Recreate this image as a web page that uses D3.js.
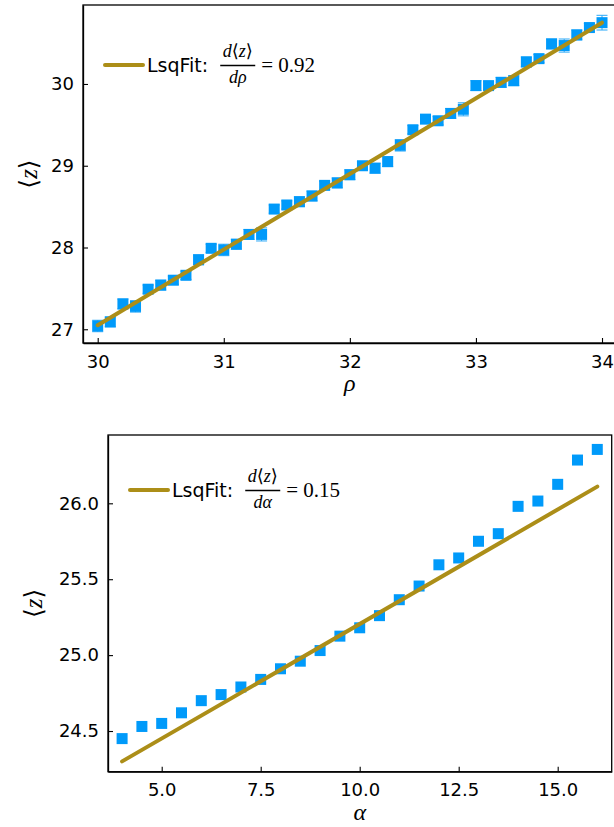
<!DOCTYPE html>
<html>
<head>
<meta charset="utf-8">
<script src="https://cdn.jsdelivr.net/npm/d3@7"></script>
<style>
  html, body { margin: 0; padding: 0; background: #fff; }
  svg { display: block; }
</style>
</head>
<body>
<svg id="chart" width="614" height="827"></svg>
<script>
// ---------- Data: top panel (rho) ----------
const rhoValues = [30.0,30.1,30.2,30.3,30.4,30.5,30.6,30.7,30.8,30.9,
                   31.0,31.1,31.2,31.3,31.4,31.5,31.6,31.7,31.8,31.9,
                   32.0,32.1,32.2,32.3,32.4,32.5,32.6,32.7,32.8,32.9,
                   33.0,33.1,33.2,33.3,33.4,33.5,33.6,33.7,33.8,33.9,34.0];
const zRho = [27.04,27.09,27.31,27.28,27.49,27.54,27.60,27.66,27.85,27.99,
              27.97,28.04,28.16,28.16,28.47,28.52,28.56,28.63,28.76,28.79,
              28.89,29.00,28.97,29.05,29.25,29.44,29.57,29.55,29.64,29.69,
              29.98,29.98,30.02,30.04,30.27,30.31,30.49,30.47,30.60,30.69,30.75];
const errRho = [0.07,0.06,0.06,0.07,0.05,0.06,0.05,0.05,0.06,0.05,
                0.07,0.06,0.06,0.08,0.05,0.05,0.06,0.06,0.05,0.06,
                0.06,0.05,0.06,0.06,0.07,0.05,0.05,0.05,0.06,0.08,
                0.06,0.05,0.06,0.06,0.06,0.05,0.06,0.08,0.06,0.05,0.09];
const fitRhoX = [30.0, 34.0];
const fitRhoY = [27.05, 30.75];
const rhoTicksX = [30, 31, 32, 33, 34];
const rhoTicksY = [27, 28, 29, 30];

// ---------- Data: bottom panel (alpha) ----------
const alphaValues = [4.0,4.5,5.0,5.5,6.0,6.5,7.0,7.5,8.0,8.5,9.0,9.5,10.0,
                     10.5,11.0,11.5,12.0,12.5,13.0,13.5,14.0,14.5,15.0,15.5,16.0];
const zAlpha = [24.45,24.53,24.55,24.62,24.70,24.74,24.79,24.84,24.91,24.96,25.03,25.125,25.18,
                25.26,25.365,25.455,25.595,25.64,25.75,25.80,25.98,26.015,26.125,26.285,26.355];
const fitAlphaX = [4.0, 16.0];
const fitAlphaY = [24.30, 26.11];
const alphaTicksX = [5.0, 7.5, 10.0, 12.5, 15.0];
const alphaTicksY = [24.5, 25.0, 25.5, 26.0];

const BLUE = "#009AFA";
const GOLD = "#AC8E18";
const SANS = "'DejaVu Sans', sans-serif";
const SERIF = "'Liberation Serif', 'DejaVu Serif', serif";

const svg = d3.select("#chart");

function drawPanel(cfg) {
  const g = svg.append("g");
  const x = d3.scaleLinear().domain(cfg.xDomain).range([cfg.left, cfg.right]);
  const y = d3.scaleLinear().domain(cfg.yDomain).range([cfg.bottom, cfg.top]);

  // frame
  g.append("rect")
    .attr("x", cfg.left).attr("y", cfg.top)
    .attr("width", cfg.right - cfg.left).attr("height", cfg.bottom - cfg.top)
    .attr("fill", "none").attr("stroke", "#000").attr("stroke-width", 1.3);

  // axes (ticks inward)
  const xAxis = d3.axisBottom(x).tickValues(cfg.xTicks).tickFormat(cfg.xFmt)
    .tickSizeInner(-5).tickSizeOuter(0).tickPadding(12);
  const gx = g.append("g").attr("transform", `translate(0,${cfg.bottom})`).call(xAxis);
  gx.select(".domain").attr("stroke-width", 1.3);
  gx.selectAll(".tick line").attr("stroke-width", 1.1);
  gx.selectAll(".tick text").attr("font-family", SANS).attr("font-size", 18).attr("fill", "#000");

  const yAxis = d3.axisLeft(y).tickValues(cfg.yTicks).tickFormat(cfg.yFmt)
    .tickSizeInner(-5).tickSizeOuter(0).tickPadding(9);
  const gy = g.append("g").attr("transform", `translate(${cfg.left},0)`).call(yAxis);
  gy.select(".domain").attr("stroke-width", 1.3);
  gy.selectAll(".tick line").attr("stroke-width", 1.1);
  gy.selectAll(".tick text").attr("font-family", SANS).attr("font-size", 18).attr("fill", "#000");

  const clip = "clip" + cfg.id;
  svg.append("clipPath").attr("id", clip).append("rect")
    .attr("x", cfg.left).attr("y", cfg.top)
    .attr("width", cfg.right - cfg.left).attr("height", cfg.bottom - cfg.top);
  const plot = g.append("g").attr("clip-path", `url(#${clip})`);

  const pts = cfg.xs.map((v, i) => ({ x: v, y: cfg.ys[i], e: cfg.errs ? cfg.errs[i] : 0 }));
  const ms = 11;

  // error bars
  if (cfg.errs) {
    const eb = plot.append("g").attr("stroke", "#2aa8f7").attr("stroke-width", 1);
    eb.selectAll("line.v").data(pts).join("line").attr("class", "v")
      .attr("x1", d => x(d.x)).attr("x2", d => x(d.x))
      .attr("y1", d => y(d.y - d.e)).attr("y2", d => y(d.y + d.e));
    eb.selectAll("line.ct").data(pts).join("line").attr("class", "ct")
      .attr("x1", d => x(d.x) - ms / 2).attr("x2", d => x(d.x) + ms / 2)
      .attr("y1", d => y(d.y + d.e)).attr("y2", d => y(d.y + d.e));
    eb.selectAll("line.cb").data(pts).join("line").attr("class", "cb")
      .attr("x1", d => x(d.x) - ms / 2).attr("x2", d => x(d.x) + ms / 2)
      .attr("y1", d => y(d.y - d.e)).attr("y2", d => y(d.y - d.e));
  }

  // markers
  plot.append("g").selectAll("rect").data(pts).join("rect")
    .attr("x", d => x(d.x) - ms / 2).attr("y", d => y(d.y) - ms / 2)
    .attr("width", ms).attr("height", ms).attr("fill", BLUE);

  // fit line
  const fitPts = cfg.fitX.map((v, i) => [v, cfg.fitY[i]]);
  plot.append("path").datum(fitPts)
    .attr("d", d3.line().x(d => x(d[0])).y(d => y(d[1])))
    .attr("fill", "none").attr("stroke", GOLD).attr("stroke-width", 4)
    .attr("stroke-linecap", "round");

  // axis labels
  g.append("text").attr("x", (x(cfg.xTicks[0]) + x(cfg.xTicks[cfg.xTicks.length - 1])) / 2)
    .attr("y", cfg.xLabelY).attr("text-anchor", "middle")
    .attr("font-family", SERIF).attr("font-style", "italic").attr("font-size", 24)
    .text(cfg.xLabel);
  g.append("text")
    .attr("transform", `translate(${cfg.yLabelX},${(cfg.top + cfg.bottom) / 2}) rotate(-90)`)
    .attr("text-anchor", "middle").attr("font-family", SERIF).attr("font-size", 25)
    .html("\u27E8<tspan font-style='italic'>z</tspan>\u27E9");

  // legend
  const L = cfg.legend;
  g.append("line").attr("x1", L.x).attr("x2", L.x + 38).attr("y1", L.y).attr("y2", L.y)
    .attr("stroke", GOLD).attr("stroke-width", 4).attr("stroke-linecap", "round");
  const lt = g.append("text").attr("x", L.x + 42).attr("y", L.y + 7)
    .attr("font-family", SANS).attr("font-size", 19).text("LsqFit:");
  const tw = lt.node().getComputedTextLength();
  const fx = L.x + 42 + tw + 12;
  const fw = 35;
  const fc = fx + fw / 2;
  g.append("text").attr("x", fc).attr("y", L.y - 8).attr("text-anchor", "middle")
    .attr("font-family", SERIF).attr("font-size", 18)
    .html("<tspan font-style='italic'>d</tspan>\u27E8<tspan font-style='italic'>z</tspan>\u27E9");
  g.append("line").attr("x1", fx).attr("x2", fx + fw).attr("y1", L.y + 0.5).attr("y2", L.y + 0.5)
    .attr("stroke", "#000").attr("stroke-width", 1.3);
  g.append("text").attr("x", fc).attr("y", L.y + 18).attr("text-anchor", "middle")
    .attr("font-family", SERIF).attr("font-style", "italic").attr("font-size", 18)
    .text("d" + cfg.sym);
  g.append("text").attr("x", fx + fw + 6).attr("y", L.y + 7)
    .attr("font-family", SERIF).attr("font-size", 21)
    .text("= " + cfg.slopeText);
}

drawPanel({
  id: "top", left: 83, right: 615, top: 5, bottom: 343,
  xDomain: [29.8834, 34.103], yDomain: [26.832, 30.966],
  xTicks: rhoTicksX, yTicks: rhoTicksY,
  xFmt: d3.format("d"), yFmt: d3.format("d"),
  xs: rhoValues, ys: zRho, errs: errRho,
  fitX: fitRhoX, fitY: fitRhoY,
  xLabel: "\u03C1", xLabelY: 391, yLabelX: 37,
  legend: { x: 105, y: 65 }, sym: "\u03C1", slopeText: "0.92"
});

drawPanel({
  id: "bot", left: 108, right: 611.7, top: 435, bottom: 771.7,
  xDomain: [3.644, 16.364], yDomain: [24.232, 26.45],
  xTicks: alphaTicksX, yTicks: alphaTicksY,
  xFmt: d3.format(".1f"), yFmt: d3.format(".1f"),
  xs: alphaValues, ys: zAlpha, errs: null,
  fitX: fitAlphaX, fitY: fitAlphaY,
  xLabel: "\u03B1", xLabelY: 820, yLabelX: 42,
  legend: { x: 130, y: 490 }, sym: "\u03B1", slopeText: "0.15"
});
</script>
</body>
</html>
